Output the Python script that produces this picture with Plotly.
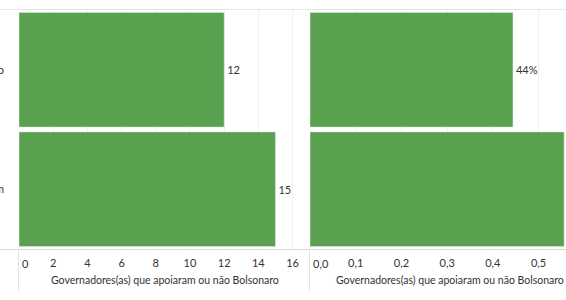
import plotly.graph_objects as go

categories = ["Apoiaram Bolsonaro", "Não apoiaram"]
counts = [12, 15]
shares = [0.444, 0.556]
left_ticks = [0, 2, 4, 6, 8, 10, 12, 14, 16]
left_tick_labels = ["0", "2", "4", "6", "8", "10", "12", "14", "16"]
right_ticks = [0.0, 0.1, 0.2, 0.3, 0.4, 0.5]
right_tick_labels = ["0,0", "0,1", "0,2", "0,3", "0,4", "0,5"]
left_title = "Governadores(as) que apoiaram ou não Bolsonaro"
right_title = "Governadores(as) que apoiaram ou não Bolsonaro (%)"

W, H = 566, 300
GREEN = "#59a14f"
FONT = "Lato"
TXT = "#333333"
RIGHT_MAX = 0.560

def px(x):
    return x / W

def py(y):
    return 1 - y / H

# the first tick label of each pane is drawn left-aligned at the pane edge (as Tableau does)
left_text = [""] + left_tick_labels[1:]
right_text = [""] + right_tick_labels[1:]

# labels that would fall beyond the cropped right edge are not shown
share_text = [f"{round(s * 100)}%" if s < RIGHT_MAX - 0.04 else "" for s in shares]

tf = dict(family=FONT, size=11, color=TXT)

fig = go.Figure()
fig.add_trace(go.Bar(
    y=categories, x=counts, orientation="h", marker_color=GREEN,
    text=[str(c) for c in counts], texttemplate="%{text}", textposition="outside",
    textfont=tf, outsidetextfont=tf, cliponaxis=True,
    xaxis="x", yaxis="y", showlegend=False,
))
fig.add_trace(go.Bar(
    y=categories, x=shares, orientation="h", marker_color=GREEN,
    text=share_text, texttemplate="%{text}", textposition="outside",
    textfont=tf, outsidetextfont=tf, cliponaxis=True,
    xaxis="x2", yaxis="y2", showlegend=False,
))

grid = "#f0f0f0"
fig.update_layout(
    width=W, height=H, margin=dict(l=0, r=0, t=0, b=0, autoexpand=False),
    paper_bgcolor="white", plot_bgcolor="white",
    separators=", ",
    bargap=0.04,
    font=dict(family=FONT, size=11, color=TXT),
    xaxis=dict(domain=[px(19), px(297)], range=[0, 16.26], tickvals=left_ticks,
               ticktext=left_text,
               showgrid=True, gridcolor=grid, zeroline=False, showline=False,
               ticks="", tickfont=tf,
               ticklabelstandoff=6, anchor="y", automargin=False),
    xaxis2=dict(domain=[px(310), 1], range=[0, RIGHT_MAX], tickvals=right_ticks,
                ticktext=right_text, showgrid=True, gridcolor=grid, zeroline=False,
                showline=False, ticks="", tickfont=tf,
                ticklabelstandoff=6, anchor="y2", automargin=False),
    yaxis=dict(domain=[py(249), py(10)], categoryorder="array",
               categoryarray=categories[::-1], showgrid=False, zeroline=False,
               ticks="", tickfont=tf,
               ticklabelstandoff=14, anchor="x", automargin=False),
    yaxis2=dict(domain=[py(249), py(10)], matches="y", showticklabels=False,
                showgrid=False, zeroline=False, anchor="x2", automargin=False),
)

line_col = "#d9d9d9"
shapes = [
    dict(type="line", xref="paper", yref="paper", x0=0, x1=1, y0=py(9.5), y1=py(9.5),
         line=dict(color="#e6e6e6", width=1)),
    dict(type="line", xref="paper", yref="paper", x0=0, x1=1, y0=py(249.5), y1=py(249.5),
         line=dict(color=line_col, width=1)),
    dict(type="line", xref="paper", yref="paper", x0=px(18.5), x1=px(18.5), y0=py(249.5), y1=py(291),
         line=dict(color="#e3e3e3", width=1)),
    dict(type="line", xref="paper", yref="paper", x0=px(309.5), x1=px(309.5), y0=py(249.5), y1=py(291),
         line=dict(color="#e3e3e3", width=1)),
]
fig.update_layout(shapes=shapes)

# first tick labels, left-aligned at the start of each axis
fig.add_annotation(text=left_tick_labels[0], xref="x", yref="paper", x=left_ticks[0], xshift=1,
                   y=py(263), xanchor="left", yanchor="middle", showarrow=False, font=tf)
fig.add_annotation(text=right_tick_labels[0], xref="x2", yref="paper", x=right_ticks[0], xshift=1,
                   y=py(263), xanchor="left", yanchor="middle", showarrow=False, font=tf)

fig.add_annotation(text=left_title, xref="paper", yref="paper", x=px(164.5), y=py(280),
                   xanchor="center", yanchor="middle", showarrow=False,
                   font=dict(family=FONT, size=10.5, color=TXT))
fig.add_annotation(text=right_title, xref="paper", yref="paper", x=px(334), y=py(280),
                   xanchor="left", yanchor="middle", showarrow=False,
                   font=dict(family=FONT, size=10.5, color=TXT))

fig.write_html("out.html")
